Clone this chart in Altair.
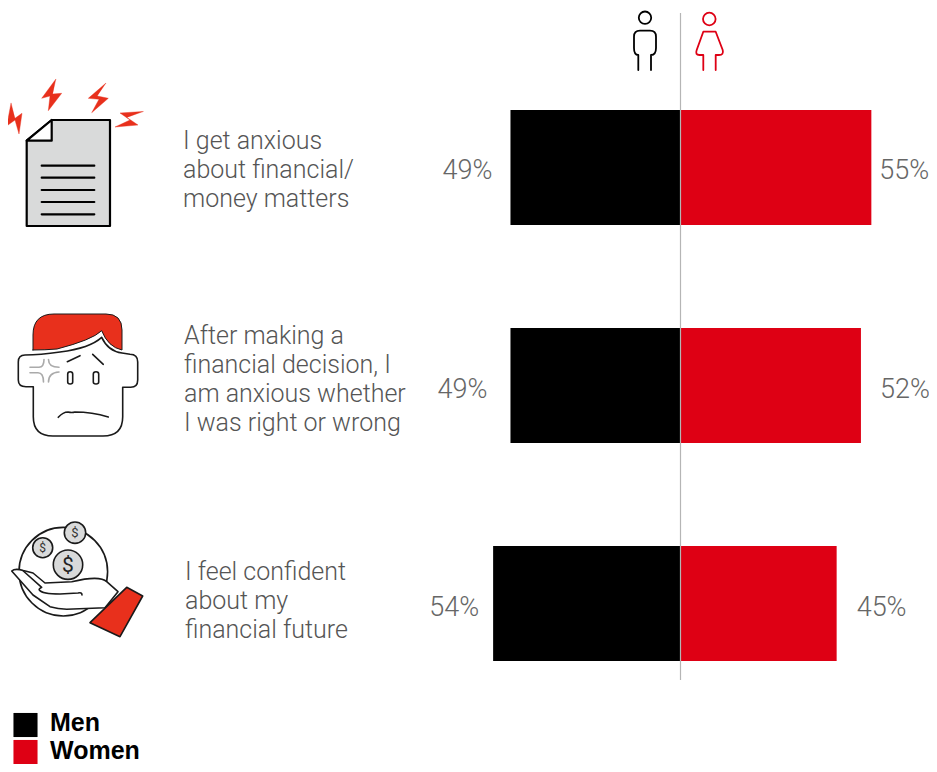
import altair as alt
import pandas as pd

# ---- data ----
questions = ["anxious", "after", "confident"]
men = [49, 49, 54]
women = [55, 52, 45]
question_labels = [
    "I get anxious\nabout financial/\nmoney matters",
    "After making a\nfinancial decision, I\nam anxious whether\nI was right or wrong",
    "I feel confident\nabout my\nfinancial future",
]
series = ["Men", "Women"]
colors = ["#000000", "#DE0014"]

W, H = 921, 756
PX = 3.47
ZERO = 672.5
xscale = alt.Scale(domain=[-ZERO / PX, (W - ZERO) / PX], range=[0, W], nice=False, zero=False)
yscale = alt.Scale(domain=questions, range=[102, 653], paddingInner=0.4725, paddingOuter=0)

rows = []
for q, m, w in zip(questions, men, women):
    rows.append({"q": q, "series": "Men", "value": m, "signed": -m, "base": 0})
    rows.append({"q": q, "series": "Women", "value": w, "signed": w, "base": 0})
df = pd.DataFrame(rows)

one = pd.DataFrame({"a": [0]})
FONT = "Roboto"
RED = "#E8301C"
INK = "#1a1a1a"


def icon(path, fill=None, stroke=INK, sw=1.6):
    kw = dict(shape=path, size=4, opacity=1, strokeWidth=sw, stroke=stroke, strokeJoin="round", strokeCap="round")
    if fill:
        kw.update(filled=True, fill=fill)
    else:
        kw.update(filled=False)
    return alt.Chart(one).mark_point(**kw).encode(x=alt.value(-8), y=alt.value(-8))


def circ(cx, cy, r):
    return f"M{cx-r},{cy} A{r},{r} 0 1 1 {cx+r},{cy} A{r},{r} 0 1 1 {cx-r},{cy} Z"


def label(s, x, y, size=25, color="#555555", align="left", weight=300, lh=29, font=FONT):
    return alt.Chart(pd.DataFrame({"t": [s]})).mark_text(
        font=font, fontSize=size, fontWeight=weight, color=color, align=align,
        baseline="alphabetic", lineBreak="\n", lineHeight=lh,
    ).encode(x=alt.value(x - 8), y=alt.value(y - 8), text="t:N")


bars = alt.Chart(df).mark_bar().encode(
    x=alt.X("signed:Q", scale=xscale, axis=None),
    x2="base:Q",
    y=alt.Y("q:N", scale=yscale, axis=None, sort=questions),
    color=alt.Color("series:N", scale=alt.Scale(domain=series, range=colors), legend=None),
)

axis_rule = alt.Chart(pd.DataFrame({"z": [0]})).mark_rule(color="#b5b5b5", strokeWidth=1.2).encode(
    x=alt.X("z:Q", scale=xscale), y=alt.value(5), y2=alt.value(672))

# value labels: gap from bar end per label, in px
left_gaps = [18, 23, 14]
right_gaps = [8, 19, 20]
value_layers = []
for i, q in enumerate(questions):
    d = df[df.q == q]
    for s, gaps, al, sign in (("Men", left_gaps, "right", -1), ("Women", right_gaps, "left", 1)):
        value_layers.append(
            alt.Chart(d[d.series == s]).transform_calculate(t="datum.value + '%'").mark_text(
                font=FONT, fontSize=27, fontWeight=300, color="#666666", align=al,
                baseline="middle", dx=sign * gaps[i], dy=4,
            ).encode(x=alt.X("signed:Q", scale=xscale), y=alt.Y("q:N", scale=yscale, sort=questions), text="t:N")
        )

text_layers = [
    label(question_labels[0], 183, 149),
    label(question_labels[1], 184, 344),
    label(question_labels[2], 185, 580),
]

# ---- manual legend, kept clear of the page's bottom edge ----
legend_layers = []
for s, c, cy, base in zip(series, colors, [725, 752], [731, 759]):
    legend_layers.append(
        alt.Chart(one).mark_square(size=580, color=c, opacity=1).encode(x=alt.value(17.5), y=alt.value(cy - 8))
    )
    legend_layers.append(label(s, 50, base, size=25, color="#000000", weight=700, font="Liberation Sans"))

# ---- icons ----
doc = [
    icon("M51.7,120 L110,120 L110,226 L26.7,226 L26.7,140.7 Z", fill="#D9DADA", stroke="#000", sw=2.2),
    icon("M51.7,120 L51.7,140.7 L26.7,140.7 Z", fill="#FFFFFF", stroke="#000", sw=2.2),
    icon("M41.7,165.7 L94.3,165.7 M41.7,177.7 L94.3,177.7 M41.7,190 L94.3,190 M41.7,202 L94.3,202 M41.7,214.3 L94.3,214.3",
         stroke="#000", sw=2.2),
    icon("M11,103.3 L6.7,126 L15,120 L19,134 L22,113.3 L15,118.3 Z", fill=RED, stroke=RED, sw=0.4),
    icon("M55.7,79.3 L41.7,98.3 L50,96 L48.3,110.7 L61.7,93.3 L52.7,94 Z", fill=RED, stroke=RED, sw=0.4),
    icon("M105.7,83.3 L88.3,98.3 L99,99.3 L91.7,112.7 L108.3,98.3 L97.3,96 Z", fill=RED, stroke=RED, sw=0.4),
    icon("M143,111.5 L120,113 L130,120 L115,127 L138,125 L127,117.5 Z", fill=RED, stroke=RED, sw=0.4),
]
face = [
    icon("M25,355 Q18.3,355 18.3,362 L18.3,380 Q18.3,386.7 26,386.7 L33.3,386.7 L33.3,416.7 Q33.3,436 53,436 "
         "L103,436 Q122.7,436 122.7,416.7 L122.7,387.3 L130.7,387.3 Q137.7,387.3 137.7,380 L137.7,362 "
         "Q137.7,354.3 130,354.3 L122,353 Q108,351 101.7,337.3 Q90,348 60,352 Q40,355 25,355 Z", fill="#FFFFFF"),
    icon("M33,350 L33,335 Q33,314 54,314 L106,314 Q122,314 122,330 L122,350 Q108,347 101.7,330.7 Q92,340 57,349 "
         "Q45,350 33,350 Z", fill=RED, sw=1),
    icon("M67.7,374 Q67.7,371.7 70.2,371.7 Q72.7,371.7 72.7,374 L72.7,382 Q72.7,384 70.2,384 Q67.7,384 67.7,382 Z "
         "M93.3,374 Q93.3,371.7 96,371.7 Q98.7,371.7 98.7,374 L98.7,382 Q98.7,384 96,384 Q93.3,384 93.3,382 Z"),
    icon("M67.3,361.7 L80,355.7 M92.7,354.3 L103.3,364.3"),
    icon("M58.3,417.3 Q63,412 68,412 Q72,413 75,412 Q92,412 108.3,417"),
    icon("M30,367.3 L39,367.3 Q44,367 44,359.5 M48.5,359.5 Q48.5,367.3 59,367.3 M30,372.7 L38,372.7 Q43.5,372.7 43.5,382 "
         "M48.5,382 Q48.5,372.7 59,372"
         , stroke="#aaaaaa", sw=1.6),
]
hand = [
    icon(circ(63.3, 571.7, 44.3), fill="#FFFFFF"),
    icon(circ(75, 532.7, 10.7), fill="#D9DADA"),
    icon(circ(42.7, 547.7, 10), fill="#D9DADA"),
    icon(circ(68, 564.7, 14.7), fill="#D9DADA"),
    icon("M11.7,571 Q15,568 23.3,570.5 L33,573 L45,583 L71.7,581.7 Q100,575 106.7,581.7 L118,591.7 L105,607.7 "
         "L66.7,609.3 Q58,609 50,606.7 L33,595 Z", fill="#FFFFFF"),
    icon("M23.3,571 L41.7,587.3 Q38.5,589 39.3,590 Q42,594 60,594 L78,593 Q82,592 82,595"),
    icon("M126.7,587.3 L142.7,596 L120,636.7 L90,622.7 Z", fill=RED, sw=1.6),
    label("$", 75, 537, size=13, color="#333333", align="center", weight=400),
    label("$", 42.7, 552, size=12, color="#333333", align="center", weight=400),
    label("$", 68, 572, size=21, color="#222222", align="center", weight=400),
]
man = [
    icon(circ(645, 17.7, 6.2), stroke="#000", sw=1.8),
    icon("M638.3,70 L638.3,55 Q634,55 634,48 L634,36.7 Q634,30.7 640,30.7 L650,30.7 Q656,30.7 656,36.7 L656,48 "
         "Q656,55 651,55 L651,70", stroke="#000", sw=1.8),
]
woman = [
    icon(circ(709.3, 19, 6.3), stroke="#DE0014", sw=1.8),
    icon("M703.3,70 L703.3,55 L699.3,55 Q695,55 696.7,50 L703.3,31.7 L715.7,31.7 L722.7,50 Q724,55 719,55 "
         "L715.7,55 L715.7,70", stroke="#DE0014", sw=1.8),
]

chart = alt.layer(
    bars, axis_rule, *value_layers, *text_layers, *legend_layers, *doc, *face, *hand, *man, *woman
).properties(
    width=W, height=H, padding=0, autosize=alt.AutoSizeParams(type="none"),
).configure_view(stroke=None)

chart.save("out.html", embed_options={"renderer": "svg", "actions": False})
